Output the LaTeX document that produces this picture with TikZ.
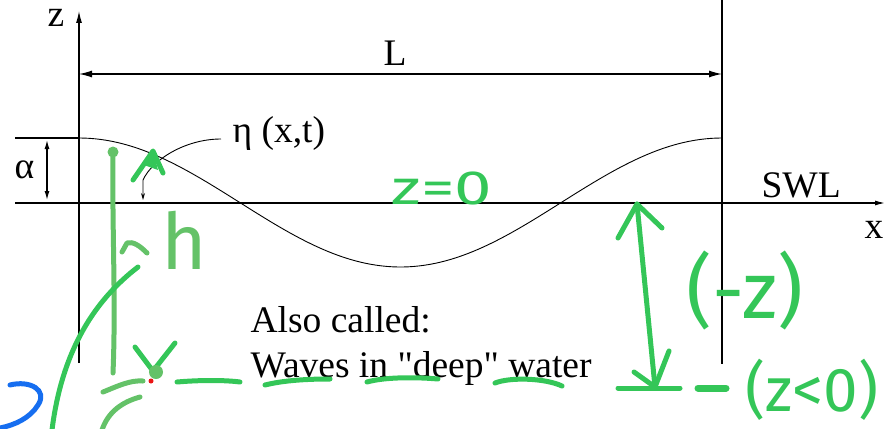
\documentclass[tikz,border=0pt]{standalone}
\usepackage{fontspec}
\usepackage{graphicx}
\setmainfont{Liberation Serif}[Ligatures=TeXOff]
\newfontfamily\handfont{Fira Sans}
\usetikzlibrary{arrows.meta}
\definecolor{hgreen}{RGB}{100,194,104}
\definecolor{dgreen}{RGB}{52,198,88}
\definecolor{hblue}{RGB}{22,110,240}
\definecolor{hred}{RGB}{235,20,20}
\begin{document}
\begin{tikzpicture}[x=1pt,y=-1pt,line width=1.2pt,
  lab/.style={font=\fontsize{37.5}{40}\selectfont,inner sep=0pt,anchor=base west},
  hand/.style={line width=5pt,line cap=round,line join=round,draw=dgreen},
  handl/.style={line width=5pt,line cap=round,line join=round,draw=hgreen},
  handtext/.style={inner sep=0pt,text=dgreen},
  dimL/.style={{Latex[length=13pt,width=7pt]}-{Latex[length=13pt,width=7pt]}},
  dimS/.style={{Latex[length=9pt,width=5pt]}-{Latex[length=9pt,width=5pt]}}]
\useasboundingbox (0,0) rectangle (885,428);
% axes and frame
\coordinate (zb) at (79,363); \coordinate (zt) at (79,11);
\draw[-{Latex[length=12pt,width=6pt]}] (zb) -- (zt);
\node[lab] (zl) at (47,27) {z};
\coordinate (rt) at (722,0); \coordinate (rb) at (722,364);
\draw (rt) -- (rb);
\coordinate (La) at (79,74); \coordinate (Lb) at (722,74);
\draw[dimL] (La) -- (Lb);
\node[lab] (L) at (383,65) {L};
\coordinate (sa) at (15,203); \coordinate (sb) at (885,203);
\draw[-{Latex[length=10pt,width=5pt]}] (sa) -- (sb);
\node[lab] (swl) at (761,197) {SWL};
\node[lab] (xl) at (864,238) {x};
\coordinate (ca) at (15,138); \coordinate (cb) at (79,138);
\draw (ca) -- (cb);
\draw[line width=0.9pt] plot[domain=79:722,samples=120] (\x,{202.5-64.5*cos(0.559876*(\x-79))});
% amplitude
\coordinate (aa) at (47,140); \coordinate (ab) at (47,200);
\draw[dimS] (aa) -- (ab);
\node[lab] (al) at (14,178) {α};
% eta
\node[lab] (eta) at (232,142) {η (x,t)};
\coordinate (e1) at (221,139); \coordinate (e2) at (143,180); \coordinate (e3) at (143,200);
\draw[line width=0.9pt,-{Stealth[length=7pt,width=4pt]}] (e1) .. controls (185,139) and (152,160) .. (e2) -- (e3);
% text
\node[lab] (t1) at (250,332) {Also called:};
\node[lab] (t2) at (250,377) {Waves in "deep" water};
% ---- handwritten annotations ----
\node[handtext,font=\handfont\fontsize{48}{50}\selectfont] (z0) at (442,188) {\scalebox{1.4}[1]{z=0}};
\node[handtext,text=hgreen,font=\handfont\fontsize{78}{80}\selectfont] (h) at (184,240) {h};
\node[handtext,font=\handfont\fontsize{80}{80}\selectfont] (mz) at (745,290) {(-z)};
\node[handtext,font=\handfont\fontsize{62}{62}\selectfont] (zneg) at (812,390) {(z<0)};
% h line with dot
\fill[hgreen] (113,152) circle (5.5pt);
\draw[handl] (113,152) .. controls (112,230) and (116,300) .. (113,373);
\draw[handl] (122,252) -- (127,243) .. controls (133,241) and (140,246) .. (147,253);
% up arrow (A)
\draw[hand] (133,180) -- (153,151) -- (163,173);
\fill[dgreen] (144,165) -- (153,151) -- (158,170) -- cycle;
% long stroke
\draw[hand] (138,267) .. controls (95,300) and (62,350) .. (52,430);
% V mark at seabed
\draw[hand] (135,347) -- (153,371) -- (175,343);
\fill[hgreen] (156,372) circle (7pt);
\fill[hred] (151,381) circle (2.5pt);
\draw[handl] (103,392) .. controls (118,386) and (130,380) .. (143,381);
\draw[handl] (140,397) .. controls (122,402) and (108,412) .. (102,430);
% seabed dashes
\draw[hand] (177,382) .. controls (200,380) and (225,380) .. (240,382);
\draw[hand] (265,385) .. controls (285,380) and (310,379) .. (330,379);
\draw[hand] (367,382) .. controls (385,377) and (415,377) .. (438,379);
\draw[hand] (495,383) .. controls (510,377) and (545,378) .. (562,386);
\draw[hand] (618,388) -- (680,388);
\draw[line width=7pt,line cap=round,draw=dgreen] (698,388) -- (726,388);
% depth arrow
\coordinate (da) at (637,204); \coordinate (db) at (655,387);
\draw[hand] (da) -- (db);
\draw[hand] (618,238) -- (da) -- (662,228);
\draw[hand] (634,372) -- (db) -- (669,351);
% blue mark
\draw[line width=5pt,line cap=round,draw=hblue] (10,385) .. controls (30,380) and (48,390) .. (38,405) .. controls (30,418) and (15,425) .. (0,428);
\end{tikzpicture}
\end{document}
